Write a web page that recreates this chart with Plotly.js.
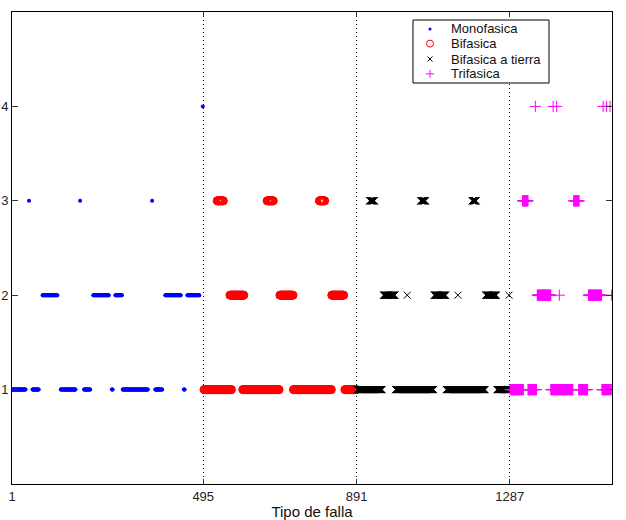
<!DOCTYPE html>
<html>
<head>
<meta charset="utf-8">
<script src="https://cdn.plot.ly/plotly-3.0.1.min.js"></script>
<style>html,body{margin:0;padding:0;background:#fff;}#chart{width:626px;height:520px;}</style>
</head>
<body>
<div id="chart"></div>
<script>
// Sample-index runs (start, end) and the predicted class of each run, per fault type
const monofasicaStart = [1, 45, 54, 80, 127, 177, 187, 211, 259, 268, 287, 363, 371, 397, 445, 454, 494];
const monofasicaEnd   = [36, 45, 70, 118, 165, 177, 203, 251, 261, 285, 352, 363, 389, 437, 447, 485, 494];
const monofasicaClass = [1, 3, 1, 2, 1, 3, 1, 2, 1, 2, 1, 3, 1, 2, 1, 2, 4];

const bifasicaStart = [497, 531, 564, 597, 660, 693, 728, 795, 827, 861];
const bifasicaEnd   = [568, 547, 600, 691, 676, 727, 826, 809, 858, 891];
const bifasicaClass = [1, 3, 2, 1, 3, 2, 1, 3, 2, 1];

const tierraStart = [893, 925, 961, 992, 1022, 1057, 1092, 1123, 1153, 1190, 1225, 1254, 1285];
const tierraEnd   = [957, 937, 990, 1090, 1022, 1069, 1121, 1223, 1153, 1200, 1252, 1284, 1285];
const tierraClass = [1, 3, 2, 1, 2, 3, 2, 1, 2, 3, 2, 1, 2];

const trifasicaStart = [1288, 1320, 1334, 1353, 1358, 1393, 1399, 1408, 1415, 1452, 1465, 1490, 1525, 1528, 1537, 1546, 1550];
const trifasicaEnd   = [1322, 1334, 1356, 1353, 1393, 1450, 1399, 1408, 1415, 1466, 1488, 1524, 1549, 1528, 1537, 1546, 1550];
const trifasicaClass = [1, 3, 1, 4, 2, 1, 4, 4, 2, 3, 1, 2, 1, 4, 4, 4, 2];

const xTicks = [1, 495, 891, 1287, 1551];
const yTicks = [1, 2, 3, 4];
const seriesNames = ['Monofasica', 'Bifasica', 'Bifasica a tierra', 'Trifasica'];
const seriesColors = ['#0000ff', '#ff0000', '#000000', '#ff00ff'];

function expandRuns(starts, ends, classes) {
  const x = [], y = [];
  for (let i = 0; i < starts.length; i++) {
    for (let k = starts[i]; k <= ends[i]; k++) { x.push(k); y.push(classes[i]); }
  }
  return {x, y};
}

const mono = expandRuns(monofasicaStart, monofasicaEnd, monofasicaClass);
const bif = expandRuns(bifasicaStart, bifasicaEnd, bifasicaClass);
const tie = expandRuns(tierraStart, tierraEnd, tierraClass);
const tri = expandRuns(trifasicaStart, trifasicaEnd, trifasicaClass);

const traces = [
  {x: mono.x, y: mono.y, name: seriesNames[0], type: 'scatter', mode: 'markers', showlegend: false,
   marker: {symbol: 'circle', size: 4, color: seriesColors[0], line: {width: 0}}},
  {x: bif.x, y: bif.y, name: seriesNames[1], type: 'scatter', mode: 'markers', showlegend: false,
   marker: {symbol: 'circle-open', size: 8, color: seriesColors[1], line: {width: 1, color: seriesColors[1]}}},
  {x: tie.x, y: tie.y, name: seriesNames[2], type: 'scatter', mode: 'markers', showlegend: false,
   marker: {symbol: 'x-thin-open', size: 7, color: seriesColors[2], line: {width: 1, color: seriesColors[2]}}},
  {x: tri.x, y: tri.y, name: seriesNames[3], type: 'scatter', mode: 'markers', showlegend: false,
   marker: {symbol: 'cross-thin-open', size: 8, color: seriesColors[3], line: {width: 1, color: seriesColors[3]}}}
];

const fam = 'Liberation Sans, Arial, sans-serif';
const font = {family: fam, size: 13, color: '#222'};

// compact legend (paper coordinates; plot area is 600 x 472 px)
const PX = 1 / 600, PY = 1 / 472;
const legBox = {x0: 0.6683, x1: 0.895, y0: 0.8496, y1: 0.983};
const legRowY = [0.964, 0.933, 0.9004, 0.869];
const glyphX = 0.6967;
const annotations = [];
const shapes = [{type: 'rect', xref: 'paper', yref: 'paper', x0: legBox.x0, x1: legBox.x1, y0: legBox.y0, y1: legBox.y1,
  line: {color: '#000', width: 1}, fillcolor: '#ffffff', layer: 'above'}];
function seg(xa, ya, xb, yb, color) {
  return {type: 'line', xref: 'paper', yref: 'paper', x0: xa, y0: ya, x1: xb, y1: yb, line: {color: color, width: 1}, layer: 'above'};
}
// glyphs: dot, open circle, x, +
shapes.push({type: 'circle', xref: 'paper', yref: 'paper', x0: glyphX - 1.5 * PX, x1: glyphX + 1.5 * PX,
  y0: legRowY[0] - 1.5 * PY, y1: legRowY[0] + 1.5 * PY, fillcolor: seriesColors[0], line: {width: 0}, layer: 'above'});
shapes.push({type: 'circle', xref: 'paper', yref: 'paper', x0: glyphX - 3.5 * PX, x1: glyphX + 3.5 * PX,
  y0: legRowY[1] - 3.5 * PY, y1: legRowY[1] + 3.5 * PY, fillcolor: 'rgba(0,0,0,0)', line: {color: seriesColors[1], width: 1}, layer: 'above'});
shapes.push(seg(glyphX - 2.5 * PX, legRowY[2] - 2.5 * PY, glyphX + 2.5 * PX, legRowY[2] + 2.5 * PY, seriesColors[2]));
shapes.push(seg(glyphX - 2.5 * PX, legRowY[2] + 2.5 * PY, glyphX + 2.5 * PX, legRowY[2] - 2.5 * PY, seriesColors[2]));
shapes.push(seg(glyphX - 4 * PX, legRowY[3], glyphX + 4 * PX, legRowY[3], seriesColors[3]));
shapes.push(seg(glyphX, legRowY[3] - 4 * PY, glyphX, legRowY[3] + 4 * PY, seriesColors[3]));
seriesNames.forEach((n, i) => {
  annotations.push({xref: 'paper', yref: 'paper', x: 0.73, y: legRowY[i], xanchor: 'left', yanchor: 'middle',
    text: n, showarrow: false, borderpad: 0, font: {family: fam, size: 13, color: '#111'}});
});

const layout = {
  width: 626, height: 520,
  margin: {l: 12, r: 14, t: 12, b: 36, pad: 0},
  paper_bgcolor: '#ffffff', plot_bgcolor: '#ffffff',
  font: font,
  showlegend: false,
  shapes: shapes,
  annotations: annotations,
  xaxis: {
    range: [1, 1551], tickmode: 'array', tickvals: xTicks, ticktext: xTicks.map(String),
    ticks: 'inside', ticklen: 5, tickcolor: '#333', tickwidth: 1,
    showline: true, linecolor: '#000', linewidth: 1, mirror: 'ticks',
    showgrid: true, gridcolor: '#000', gridwidth: 1, griddash: '1px,3px',
    zeroline: false, automargin: false,
    tickfont: font,
    title: {text: 'Tipo de falla', font: {family: fam, size: 15, color: '#111'}, standoff: 2}
  },
  yaxis: {
    range: [0, 5], tickmode: 'array', tickvals: yTicks, ticktext: yTicks.map(String),
    ticks: 'inside', ticklen: 6, tickcolor: '#333', tickwidth: 1,
    showline: true, linecolor: '#000', linewidth: 1, mirror: 'ticks',
    showgrid: false, zeroline: false, automargin: false,
    tickfont: font
  }
};

Plotly.newPlot('chart', traces, layout, {displayModeBar: false, staticPlot: true});
</script>
</body>
</html>
